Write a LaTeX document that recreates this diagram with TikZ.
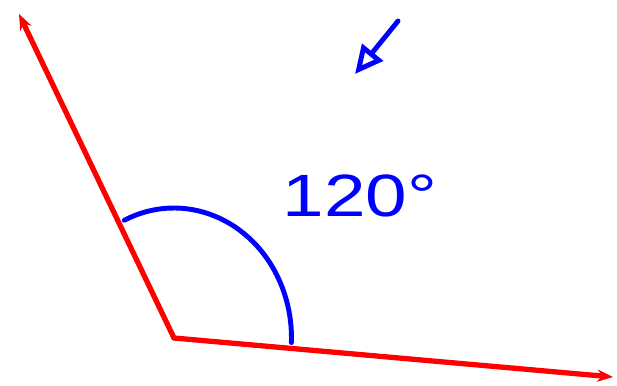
\documentclass[tikz,border=0pt]{standalone}
\usepackage{fontspec}
\setmainfont{Liberation Sans}
\usepackage{tikz}
\usetikzlibrary{arrows.meta}

\begin{document}
\begin{tikzpicture}[x=0.02cm,y=-0.02cm,
      ray/.style={red,line width=3pt,line cap=round,
                  -{Stealth[length=9pt,width=7pt]}},
      sweep/.style={blue,line width=2.8pt,line cap=round},
      pointer/.style={blue,line width=2.8pt,line cap=round,line join=round,
                      -{Triangle[open,length=16pt,width=15pt]}},
      hand/.style={blue,font=\fontsize{34}{34}\selectfont,inner sep=0pt},
  ]
  \useasboundingbox (0,0) rectangle (617,385);

  %--- the two rays ---
  \coordinate (O) at (174,338);
  \coordinate (A) at (613,377);
  \coordinate (B) at (19,14);
  \draw[ray] (O) -- (A);
  \draw[ray] (O) -- (B);

  % angle mark
  \draw[sweep] (O) ++(115:2.35cm and 2.6cm) coordinate (S)
    arc[start angle=115,end angle=-2,x radius=2.35cm,y radius=2.6cm] coordinate (E);

  %--- label and pointer ---
  \node[hand,xscale=1.25] (lbl) at (360,196) {120°};
  \coordinate (P) at (398,21);
  \coordinate (Q) at (355,74);
  \draw[pointer] (P) -- (Q);
\end{tikzpicture}
\end{document}
